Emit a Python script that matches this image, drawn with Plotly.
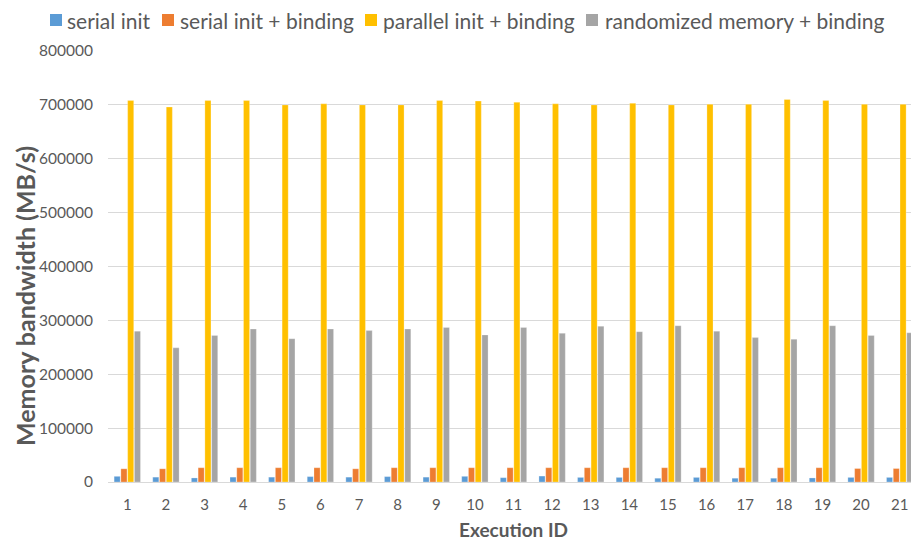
import plotly.graph_objects as go

execution_ids = [str(i) for i in range(1, 22)]
serial_init = [10500, 9000, 7500, 9000, 9000, 10000, 9000, 10000, 9000, 10500, 8000,
               11000, 8500, 8500, 7000, 8500, 7000, 7000, 7500, 8500, 8500]
serial_init_binding = [24500, 24500, 26500, 26500, 26500, 26500, 24500, 26500, 26500, 26500, 26500,
                       26500, 26500, 26500, 26500, 26500, 26500, 26500, 26500, 25000, 25000]
parallel_init_binding = [708000, 696000, 708000, 708000, 700000, 702000, 700000, 700000, 708000, 707000, 705000,
                         702000, 700000, 703000, 700000, 701000, 701000, 710000, 708000, 701000, 701000]
randomized_binding = [280000, 249000, 272000, 284000, 266000, 284000, 281000, 284000, 287000, 273000, 287000,
                      276000, 289000, 279000, 290000, 280000, 268000, 265000, 290000, 272000, 277000]

series_names = ["serial init", "serial init + binding", "parallel init + binding", "randomized memory + binding"]
series_values = [serial_init, serial_init_binding, parallel_init_binding, randomized_binding]
series_colors = ["#5B9BD5", "#ED7D31", "#FFC000", "#A5A5A5"]

# figure geometry (page body adds an 8px offset)
W, H = 911, 534
ML, MR, MT, MB = 100, 0, 43, 60
PW, PH = W - ML - MR, H - MT - MB

def px(fx):
    return (fx - ML) / PW

def py(fy):
    return (H - MB - fy) / PH

font_family = "Lato, 'Open Sans', sans-serif"
text_color = "#595959"

fig = go.Figure()
for name, vals, col in zip(series_names, series_values, series_colors):
    fig.add_trace(go.Bar(x=execution_ids, y=vals, name=name, showlegend=False,
                         marker=dict(color=col, line=dict(color="rgba(255,255,255,0.5)", width=0.5))))

# custom legend (square swatch + text)
legend_swatch_x = [42, 154, 357, 578]
legend_text_x = [58, 171, 374, 596]
shapes = []
annotations = []
for name, col, sx, tx in zip(series_names, series_colors, legend_swatch_x, legend_text_x):
    shapes.append(dict(type="rect", xref="paper", yref="paper",
                       x0=px(sx), x1=px(sx + 12), y0=py(18), y1=py(6),
                       fillcolor=col, line=dict(width=0)))
    annotations.append(dict(text=name, xref="paper", yref="paper", x=px(tx), y=py(13),
                            xanchor="left", yanchor="middle", showarrow=False, borderpad=0,
                            font=dict(size=21, color=text_color, family=font_family)))

# axis titles
annotations.append(dict(text="<b>Memory bandwidth (MB/s)</b>", xref="paper", yref="paper",
                        x=px(17), y=py(288), xanchor="center", yanchor="middle", textangle=-90,
                        showarrow=False, borderpad=0,
                        font=dict(size=25, color=text_color, family=font_family)))
annotations.append(dict(text="<b>Execution ID</b>", xref="paper", yref="paper",
                        x=0.5, y=py(521), xanchor="center", yanchor="middle",
                        showarrow=False, borderpad=0,
                        font=dict(size=19, color=text_color, family=font_family)))

fig.update_layout(
    width=W, height=H,
    margin=dict(l=ML, r=MR, t=MT, b=MB),
    paper_bgcolor="white", plot_bgcolor="white",
    barmode="group", bargap=0.3, bargroupgap=0.1,
    font=dict(family=font_family, color=text_color, size=15),
    showlegend=False,
    shapes=shapes, annotations=annotations,
    xaxis=dict(showgrid=False, showline=True, linecolor="#D9D9D9", linewidth=1,
               ticks="", ticklabelstandoff=9, tickfont=dict(size=15, color=text_color)),
    yaxis=dict(range=[0, 800000], dtick=100000, showgrid=True, gridcolor="#D9D9D9", gridwidth=1,
               zeroline=False, ticks="", tickformat="d", ticklabelstandoff=14,
               tickfont=dict(size=15.5, color=text_color)),
)

fig.write_html("out.html")
